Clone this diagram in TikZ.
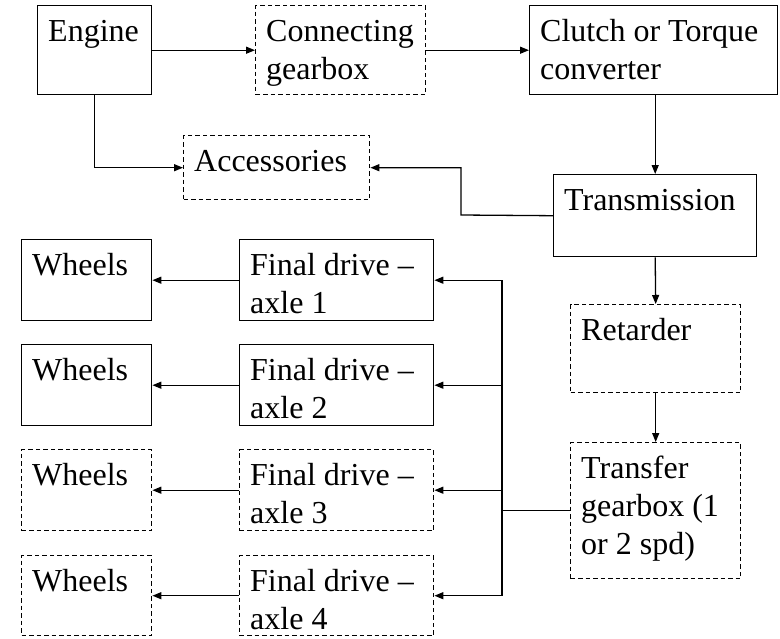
\documentclass[tikz,border=0pt]{standalone}
\usepackage{fontspec}
\setmainfont{Liberation Serif}
\usetikzlibrary{arrows.meta,calc}
\newcommand{\tl}[1]{\begin{tabular}[t]{@{}l@{}}#1\end{tabular}}
\tikzset{
  blk/.style={draw, line width=1.4pt, anchor=north west, inner sep=0pt, rectangle},
  dblk/.style={blk, dash pattern=on 4.5pt off 3pt},
  txt/.style={label={[anchor=base west, inner sep=0pt, xshift=11pt, yshift=-36pt,
      font=\fontsize{32}{38}\selectfont]north west:\tl{#1}}},
  con/.style={line width=1.3pt},
  arr/.style={con, -{Triangle[length=9pt,width=7pt]}}
}
\begin{document}
\begin{tikzpicture}[x=1pt,y=-1pt]
\useasboundingbox (0,0) rectangle (780,638);
% top row
\node[blk, minimum width=114pt, minimum height=89pt, txt={Engine}] (engine) at (37,5) {};
\node[dblk, minimum width=170pt, minimum height=89pt, txt={Connecting\\gearbox}] (cgear) at (255,5) {};
\node[blk, minimum width=248pt, minimum height=89pt, txt={Clutch or Torque\\converter}] (clutch) at (529,5) {};
\node[dblk, minimum width=186pt, minimum height=64pt, txt={Accessories}] (acc) at (183,135) {};
\node[blk, minimum width=203pt, minimum height=82pt, txt={Transmission}] (trans) at (553,174) {};
\node[dblk, minimum width=170pt, minimum height=88pt, txt={Retarder}] (ret) at (570,304) {};
\node[dblk, minimum width=170pt, minimum height=136pt, txt={Transfer\\gearbox (1\\or 2 spd)}] (tgb) at (570,442) {};
% wheels and final drives
\node[blk, minimum width=130pt, minimum height=81pt, txt={Wheels}] (w1) at (21,239) {};
\node[blk, minimum width=194pt, minimum height=81pt, txt={Final drive –\\axle 1}] (fd1) at (239,239) {};
\node[blk, minimum width=130pt, minimum height=81pt, txt={Wheels}] (w2) at (21,344) {};
\node[blk, minimum width=194pt, minimum height=81pt, txt={Final drive –\\axle 2}] (fd2) at (239,344) {};
\node[dblk, minimum width=130pt, minimum height=81pt, txt={Wheels}] (w3) at (21,449) {};
\node[dblk, minimum width=194pt, minimum height=81pt, txt={Final drive –\\axle 3}] (fd3) at (239,449) {};
\node[dblk, minimum width=130pt, minimum height=80pt, txt={Wheels}] (w4) at (21,555) {};
\node[dblk, minimum width=194pt, minimum height=80pt, txt={Final drive –\\axle 4}] (fd4) at (239,555) {};
% connectors
\draw[arr] (engine.east) -- (cgear.west);
\draw[arr] (cgear.east) -- (clutch.west);
\draw[arr] (trans.north |- clutch.south) -- (trans.north);
\draw[arr] (engine.south) |- (acc.west);
\coordinate (tk) at (461,215);
\draw[arr] (trans.west) -- (tk) |- (acc.east);
\draw[arr] (trans.south) -- (ret.north);
\draw[arr] (ret.south) -- (tgb.north);
\coordinate (bus) at (502,0);
\draw[con] (tgb.west) -- (bus |- tgb.west);
\draw[con] (bus |- fd1.east) -- (bus |- fd4.east);
\foreach \i in {1,2,3,4}{
  \draw[arr] (bus |- fd\i.east) -- (fd\i.east);
  \draw[arr] (fd\i.west) -- (w\i.east);
}
\end{tikzpicture}
\end{document}
